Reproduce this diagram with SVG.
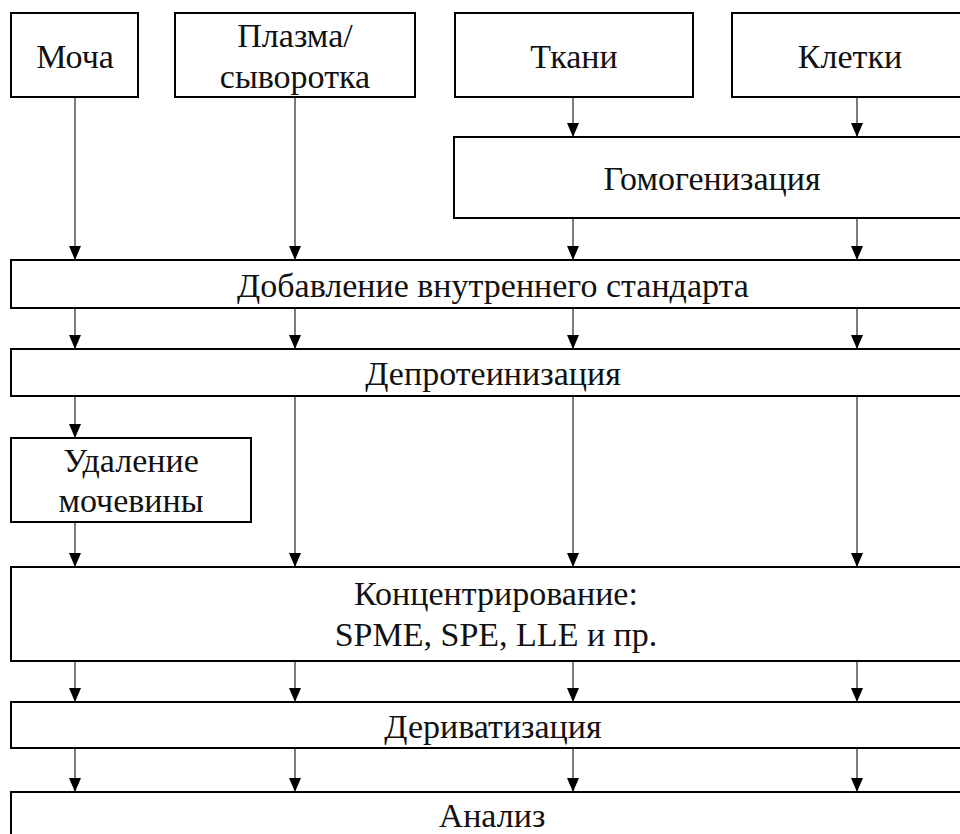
<svg xmlns="http://www.w3.org/2000/svg" width="960" height="834" viewBox="0 0 960 834">
<style>
.box{fill:#fff;stroke:#000;stroke-width:2}
.t{font-size:34px;fill:#111;text-anchor:middle}
.c{stroke:#333;stroke-width:1.3;fill:none;marker-end:url(#ah)}
</style>
<defs>
<marker id="ah" markerUnits="userSpaceOnUse" markerWidth="14" markerHeight="12" viewBox="0 0 14 12" refX="14" refY="6" orient="auto">
<path d="M0,0 L14,6 L0,12 Z" fill="#000"/>
</marker>
</defs>
<rect width="960" height="834" fill="#fff"/>
<g id="connectors">
<line class="c" x1="75" y1="97" x2="75" y2="260"/>
<line class="c" x1="295" y1="97" x2="295" y2="260"/>
<line class="c" x1="573" y1="97" x2="573" y2="137"/>
<line class="c" x1="857" y1="97" x2="857" y2="137"/>
<line class="c" x1="573" y1="218" x2="573" y2="260"/>
<line class="c" x1="857" y1="218" x2="857" y2="260"/>
<line class="c" x1="75" y1="308" x2="75" y2="349"/>
<line class="c" x1="295" y1="308" x2="295" y2="349"/>
<line class="c" x1="573" y1="308" x2="573" y2="349"/>
<line class="c" x1="857" y1="308" x2="857" y2="349"/>
<line class="c" x1="75" y1="396" x2="75" y2="438"/>
<line class="c" x1="295" y1="396" x2="295" y2="567"/>
<line class="c" x1="573" y1="396" x2="573" y2="567"/>
<line class="c" x1="857" y1="396" x2="857" y2="567"/>
<line class="c" x1="75" y1="522" x2="75" y2="567"/>
<line class="c" x1="75" y1="661" x2="75" y2="702"/>
<line class="c" x1="295" y1="661" x2="295" y2="702"/>
<line class="c" x1="573" y1="661" x2="573" y2="702"/>
<line class="c" x1="857" y1="661" x2="857" y2="702"/>
<line class="c" x1="75" y1="748" x2="75" y2="792"/>
<line class="c" x1="295" y1="748" x2="295" y2="792"/>
<line class="c" x1="573" y1="748" x2="573" y2="792"/>
<line class="c" x1="857" y1="748" x2="857" y2="792"/>
</g>
<g id="nodes" font-family="Liberation Serif, serif">
<g id="n-mocha"><rect class="box" x="11" y="13" width="127" height="84"/><text class="t" x="75" y="68">Моча</text></g>
<g id="n-plasma"><rect class="box" x="175" y="13" width="240" height="84"/><text class="t" x="295" y="47">Плазма/</text><text class="t" x="295" y="88">сыворотка</text></g>
<g id="n-tkani"><rect class="box" x="455" y="13" width="238" height="84"/><text class="t" x="574" y="68">Ткани</text></g>
<g id="n-kletki"><rect class="box" x="732" y="13" width="240" height="84"/><text class="t" x="850" y="68">Клетки</text></g>
<g id="n-homog"><rect class="box" x="454" y="137" width="520" height="81"/><text class="t" x="712" y="190">Гомогенизация</text></g>
<g id="n-istd"><rect class="box" x="11" y="260" width="964" height="48"/><text class="t" x="493" y="297">Добавление внутреннего стандарта</text></g>
<g id="n-deprot"><rect class="box" x="11" y="349" width="964" height="47"/><text class="t" x="493" y="385">Депротеинизация</text></g>
<g id="n-urea"><rect class="box" x="11" y="438" width="240" height="84"/><text class="t" x="131" y="472">Удаление</text><text class="t" x="131" y="512">мочевины</text></g>
<g id="n-conc"><rect class="box" x="11" y="567" width="964" height="94"/><text class="t" x="496" y="605">Концентрирование:</text><text class="t" x="496" y="646">SPME, SPE, LLE и пр.</text></g>
<g id="n-deriv"><rect class="box" x="11" y="702" width="964" height="46"/><text class="t" x="493" y="738">Дериватизация</text></g>
<g id="n-anal"><rect class="box" x="11" y="792" width="964" height="60"/><text class="t" x="492" y="827">Анализ</text></g>
</g>
</svg>
